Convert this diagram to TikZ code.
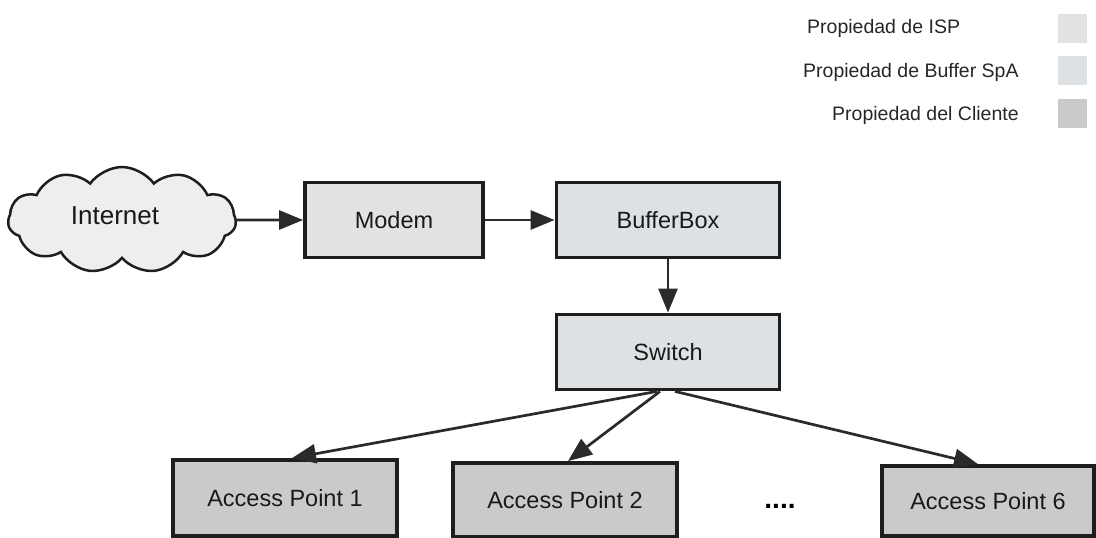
\documentclass[tikz,border=0pt]{standalone}
\usepackage{fontspec}
\setmainfont{Liberation Sans}
\usetikzlibrary{shapes.symbols,arrows.meta,calc}
\definecolor{ispfill}{HTML}{E2E2E2}
\definecolor{buffill}{HTML}{DDE1E3}
\definecolor{clifill}{HTML}{CACACA}
\definecolor{cloudfill}{HTML}{EEEEEE}
\definecolor{edge}{HTML}{1E1E1E}
\definecolor{arrcol}{HTML}{2A2A2A}
\tikzset{
  box/.style={draw=edge, line width=3.8pt, minimum height=75pt, inner sep=0pt, text=black!90, font=\fontsize{23.5}{26}\selectfont},
  ispbox/.style={box, fill=ispfill},
  bufbox/.style={box, fill=buffill},
  clibox/.style={box, fill=clifill},
  legtext/.style={font=\fontsize{19.5}{22}\selectfont, anchor=west, inner sep=0pt, text=black!85},
  swatch/.style={minimum width=29pt, minimum height=29pt, inner sep=0pt},
  arr/.style={draw=arrcol, line width=2.7pt, -{Triangle[length=24pt,width=19pt]}},
}
\begin{document}
\begin{tikzpicture}[x=1pt,y=-1pt]
\useasboundingbox (0,0) rectangle (1096,538);
% legend
\node[legtext] (l1) at (807,28) {Propiedad de ISP};
\node[legtext] (l2) at (803,72) {Propiedad de Buffer SpA};
\node[legtext] (l3) at (832,115) {Propiedad del Cliente};
\node[swatch, fill=ispfill] (s1) at (1072,28) {};
\node[swatch, fill=buffill] (s2) at (1072,70) {};
\node[swatch, fill=clifill] (s3) at (1072,113) {};
% cloud
\node[cloud, cloud puffs=11, cloud puff arc=110, draw=edge, line width=2.5pt, fill=cloudfill,
      minimum width=228pt, minimum height=106pt, inner sep=0pt] (internet) at (122,220) {};
\node[font=\fontsize{26}{28}\selectfont, text=black!90] (itext) at (115,216) {Internet};
% boxes
\node[ispbox, minimum width=178pt] (modem) at (394,220) {Modem};
\node[bufbox, minimum width=223pt] (bbox) at (668,220) {BufferBox};
\node[bufbox, minimum width=223pt] (switch) at (668,352) {Switch};
\node[clibox, minimum width=224pt, minimum height=76pt] (ap1) at (285,498) {Access Point 1};
\node[clibox, minimum width=224pt, minimum height=74pt] (ap2) at (565,500) {Access Point 2};
\node[clibox, minimum width=212pt, minimum height=70pt] (ap6) at (988,501) {Access Point 6};
\node[font=\fontsize{28}{30}\selectfont\bfseries] (dots) at (780,506) {....};
% connectors
\draw[arr] (internet.east) -- (modem.west);
\draw[arr] (modem.east) -- (bbox.west);
\draw[arr] (bbox.south) -- (switch.north);
\draw[arr] ([xshift=-11pt]switch.south) -- ([xshift=7pt]ap1.north);
\draw[arr] ([xshift=-8pt]switch.south) -- ([xshift=3pt]ap2.north);
\draw[arr] ([xshift=7pt]switch.south) -- ([xshift=-10pt]ap6.north);
\end{tikzpicture}
\end{document}
